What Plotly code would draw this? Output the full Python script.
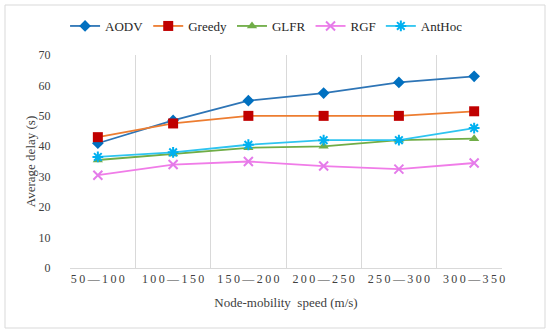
import plotly.graph_objects as go

TS = "\u2009"
raw_categories = ["50—100", "100—150", "150—200", "200—250", "250—300", "300—350"]
categories = [TS.join(list(c)) for c in raw_categories]
aodv = [41, 48.5, 55, 57.5, 61, 63]
greedy = [43, 47.5, 50, 50, 50, 51.5]
glfr = [35.5, 37.5, 39.5, 40, 42, 42.5]
rgf = [30.5, 34, 35, 33.5, 32.5, 34.5]
anthoc = [36.5, 38, 40.5, 42, 42, 46]

series = [
    ("AODV", aodv, "#2E75B6", "#0070C0", "diamond", 9),
    ("Greedy", greedy, "#ED7D31", "#C00000", "square", 10),
    ("GLFR", glfr, "#70AD47", "#70AD47", "triangle-up", 9),
    ("RGF", rgf, "#F07CE8", "#E47BEA", "x-thin-open", 9),
    ("AntHoc", anthoc, "#2EC4F0", "#00B0F0", "asterisk-open", 9),
]

FONT = "Liberation Serif"

fig = go.Figure()
for name, vals, lc, mc, sym, sz in series:
    fig.add_trace(go.Scatter(
        x=categories, y=vals, name=name, mode="lines+markers",
        line=dict(color=lc, width=1.8),
        marker=dict(symbol=sym, size=sz, color=mc, line=dict(color=mc, width=2 if "open" in sym else 0)),
    ))

L, R, T, B = 70, 48, 55, 66
W, H = 550, 334
pw, ph = W - L - R, H - T - B

fig.update_layout(
    width=W, height=H,
    margin=dict(l=L, r=R, t=T, b=B, autoexpand=False),
    paper_bgcolor="white", plot_bgcolor="white",
    font=dict(family=FONT, size=12, color="#404040"),
    showlegend=True,
    legend=dict(orientation="h", x=0.455, xanchor="center", y=1.0 + (T - 26) / ph, yanchor="middle",
                font=dict(family=FONT, size=13, color="#262626"), tracegroupgap=0),
    xaxis=dict(
        type="category", tickson="boundaries", showgrid=True, gridcolor="#D9D9D9", gridwidth=1,
        showline=True, linecolor="#D9D9D9", ticks="", tickfont=dict(family=FONT, size=12, color="#404040"),
        title=dict(text="Node-mobility  speed (m/s)", font=dict(family=FONT, size=13, color="#404040"), standoff=12),
    ),
    yaxis=dict(
        range=[0, 70], dtick=10, showgrid=False, zeroline=False, showline=False,
        ticks="outside", ticklen=16, tickcolor="rgba(0,0,0,0)",
        tickfont=dict(family=FONT, size=12, color="#404040"),
        title=dict(text="Average delay (s)", font=dict(family=FONT, size=13, color="#404040"), standoff=0),
    ),
    shapes=[dict(type="rect", xref="paper", yref="paper",
                 x0=(5 - L) / pw, x1=(545 - L) / pw,
                 y0=(ph + T - 328) / ph, y1=(ph + T - 5) / ph,
                 line=dict(color="#D9D9D9", width=1), fillcolor="rgba(0,0,0,0)", layer="below")],
)

fig.write_html("out.html", config={"displayModeBar": False},
               post_script="document.body.style.margin='0';document.body.style.padding='0';")
